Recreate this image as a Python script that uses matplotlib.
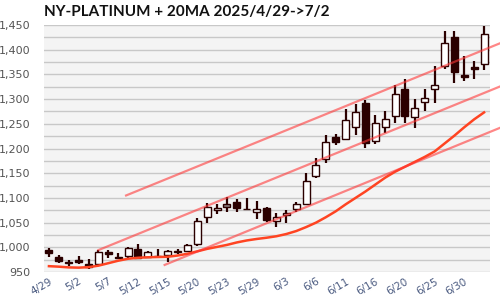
import numpy as np
import matplotlib.pyplot as plt

# NY platinum daily candles, 2025/4/29 -> 7/2
dates = ['4/29', '4/30', '5/1', '5/2', '5/5', '5/6', '5/7', '5/8', '5/9',
         '5/12', '5/13', '5/14', '5/15', '5/16', '5/19', '5/20', '5/21', '5/22',
         '5/23', '5/27', '5/28', '5/29', '5/30', '6/2', '6/3', '6/4', '6/5',
         '6/6', '6/9', '6/10', '6/11', '6/12', '6/13', '6/16', '6/17', '6/18',
         '6/20', '6/23', '6/24', '6/25', '6/26', '6/27', '6/30', '7/1', '7/2']
opens = [995, 981, 970, 974, 966, 967, 991, 980, 982, 997, 981, 983, 985, 990, 992,
         1006, 1061, 1076, 1082, 1091, 1078, 1072, 1080, 1054, 1065, 1077, 1088,
         1144, 1179, 1223, 1219, 1244, 1292, 1215, 1243, 1265, 1321, 1263, 1294,
         1320, 1366, 1425, 1349, 1364, 1370]
highs = [999, 984, 974, 982, 976, 994, 994, 989, 1001, 1007, 992, 997, 995, 997, 1007,
         1060, 1089, 1088, 1101, 1098, 1099, 1094, 1082, 1070, 1075, 1092, 1151,
         1180, 1227, 1229, 1280, 1290, 1298, 1268, 1275, 1329, 1341, 1300, 1320,
         1366, 1438, 1438, 1387, 1377, 1447]
lows = [981, 968, 963, 966, 957, 965, 979, 978, 979, 976, 979, 981, 970, 986, 990,
        1003, 1050, 1068, 1072, 1072, 1076, 1058, 1052, 1042, 1050, 1072, 1086,
        1141, 1171, 1207, 1217, 1227, 1202, 1209, 1231, 1252, 1252, 1241, 1275,
        1293, 1361, 1333, 1337, 1341, 1359]
closes = [989, 973, 968, 970, 961, 991, 986, 979, 999, 978, 990, 982, 993, 992, 1005,
          1053, 1082, 1080, 1088, 1080, 1077, 1077, 1056, 1061, 1070, 1087, 1134,
          1167, 1213, 1214, 1258, 1273, 1211, 1251, 1260, 1310, 1265, 1281, 1302,
          1329, 1413, 1354, 1345, 1360, 1431]
ma20 = [962, 961, 959.5, 959, 960, 963, 968, 973, 977, 979, 980, 980.5, 981, 983.5,
        987, 992, 997, 1001, 1005, 1010, 1014, 1017, 1019.5, 1022.5, 1027, 1033,
        1041, 1050, 1061, 1073, 1087, 1100, 1113, 1127, 1141, 1153, 1163, 1173,
        1183, 1194, 1210, 1226, 1243, 1259, 1273]

# trend channel: start index, start value, end index, end value
trend_x0 = [7.8, 5.0, 11.7]
trend_y0 = [1105, 994.5, 964.5]
trend_x1 = [46, 46, 46]
trend_y1 = [1416, 1328.6, 1245]

tick_idx = list(range(0, 43, 3))

dark = '#2b0000'
x = np.arange(len(dates))

fig = plt.figure(figsize=(5, 3), dpi=100)
ax = fig.add_axes([0.088, 0.093, 0.892, 0.824])
ax.set_facecolor('#f4f4f4')

ax.vlines(x, lows, highs, color=dark, lw=1.6, zorder=2)
for i in range(len(x)):
    o, c = opens[i], closes[i]
    if i == 18:
        fc = '#8c7f7f'
    elif c >= o:
        fc = 'white'
    else:
        fc = dark
    ax.bar(x[i], abs(c - o), bottom=min(o, c), width=0.7, color=fc,
           edgecolor=dark, lw=1.0, zorder=3)

ax.plot(x, ma20, color='#ff4422', lw=1.8, zorder=4)
for k in range(3):
    ax.plot([trend_x0[k], trend_x1[k]], [trend_y0[k], trend_y1[k]],
            color='#ff3838', alpha=0.6, lw=1.6, zorder=5, clip_on=False)

ax.set_xlim(-0.5, 44.6)
ax.set_ylim(950, 1450)
ax.set_yticks(np.arange(950, 1451, 25), minor=True)
ax.set_yticks(np.arange(950, 1451, 50))
ax.set_yticklabels([f'{v:,}' for v in range(950, 1451, 50)])
ax.grid(True, axis='y', which='both', color='#c8c8c8', lw=1.0, zorder=0)
ax.set_axisbelow(True)
ax.set_xticks(tick_idx)
ax.set_xticklabels([dates[i] for i in tick_idx], rotation=30, ha='right',
                   rotation_mode='anchor')
ax.tick_params(axis='both', which='both', length=0)
ax.tick_params(axis='y', labelsize=8, colors='#555555', pad=10)
ax.tick_params(axis='x', labelsize=7.5, colors='#4a5a80', pad=3)
for s in ax.spines.values():
    s.set_visible(False)

fig.text(0.088, 0.96, 'NY-PLATINUM + 20MA 2025/4/29->7/2', fontsize=11,
         fontweight='bold', color='#111111', va='center', ha='left',
         family='Lato')

fig.savefig('out.png', dpi=100)
